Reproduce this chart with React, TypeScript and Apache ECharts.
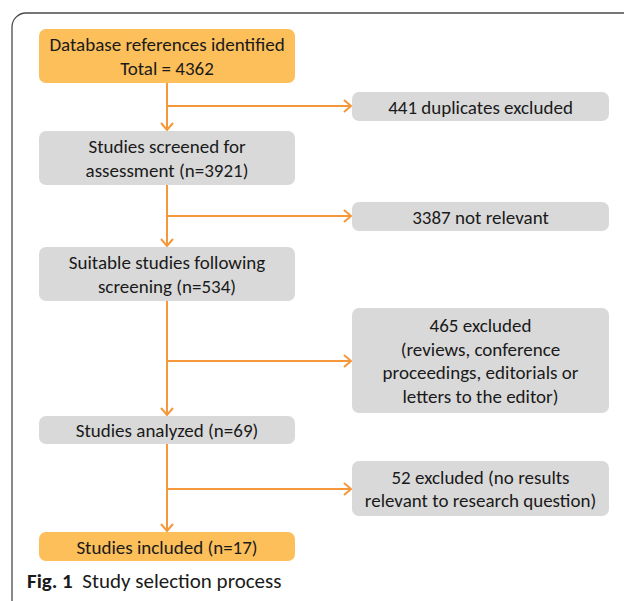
import React, { useEffect, useRef } from "react";
import * as echarts from "echarts";

// Flow steps (main column) and exclusions (right column)
const mainSteps = [
  "Database references identified\nTotal = 4362",
  "Studies screened for\nassessment (n=3921)",
  "Suitable studies following\nscreening (n=534)",
  "Studies analyzed (n=69)",
  "Studies included (n=17)",
];
const exclusions = [
  "441 duplicates excluded",
  "3387 not relevant",
  "465 excluded\n(reviews, conference\nproceedings, editorials or\nletters to the editor)",
  "52 excluded (no results\nrelevant to research question)",
];
const captionBold = "Fig. 1";
const captionText = "Study selection process";

// Layout (pixels)
const mainBoxes = [
  { y: 29, h: 54, orange: true },
  { y: 131, h: 54, orange: false },
  { y: 247, h: 54, orange: false },
  { y: 416, h: 28, orange: false },
  { y: 532, h: 29, orange: true },
];
const exBoxes = [
  { y: 92, h: 29, branchY: 106 },
  { y: 202, h: 29, branchY: 216 },
  { y: 308, h: 105, branchY: 361 },
  { y: 461, h: 55, branchY: 489 },
];

const ORANGE_FILL = "#FCBF5A";
const GREY_FILL = "#D9D9D9";
const LINE = "#F5973B";
const FONT = "Carlito, Lato, 'Open Sans', sans-serif";

export default function App() {
  const ref = useRef<HTMLDivElement>(null);
  useEffect(() => {
    document.body.style.margin = "0";
    if (!ref.current) return;
    const chart = echarts.init(ref.current, undefined, { renderer: "svg" });
    const mainX = 39, mainW = 256, exX = 352, exW = 257, lineX = 167;
    const els: any[] = [];

    // frame
    els.push({
      type: "rect",
      shape: { x: 12, y: 13, width: 700, height: 700, r: 14 },
      style: { fill: "none", stroke: "#4a4a4a", lineWidth: 1.3 },
    });

    const box = (x: number, y: number, w: number, h: number, fill: string, text: string) => {
      els.push({
        type: "rect",
        shape: { x, y, width: w, height: h, r: 7 },
        style: { fill },
      });
      els.push({
        type: "text",
        x: x + w / 2,
        y: y + h / 2 + 0.5,
        style: {
          text,
          fill: "#1a1a1a",
          font: `19px ${FONT}`,
          align: "center",
          verticalAlign: "middle",
          lineHeight: 23.5,
        },
      });
    };

    const arrowHead = (tx: number, ty: number, dir: "down" | "right") => {
      const s = 6;
      const pts =
        dir === "down"
          ? [[tx - s, ty - s - 1], [tx, ty], [tx + s, ty - s - 1]]
          : [[tx - s - 1, ty - s], [tx, ty], [tx - s - 1, ty + s]];
      els.push({
        type: "polyline",
        shape: { points: pts },
        style: { fill: "none", stroke: LINE, lineWidth: 2 },
      });
    };

    // vertical connectors
    for (let i = 0; i < mainBoxes.length - 1; i++) {
      const y1 = mainBoxes[i].y + mainBoxes[i].h;
      const y2 = mainBoxes[i + 1].y - 1;
      els.push({
        type: "line",
        shape: { x1: lineX, y1, x2: lineX, y2 },
        style: { stroke: LINE, lineWidth: 2 },
      });
      arrowHead(lineX, y2, "down");
    }
    // branches
    exBoxes.forEach((b) => {
      els.push({
        type: "line",
        shape: { x1: lineX, y1: b.branchY, x2: exX - 1, y2: b.branchY },
        style: { stroke: LINE, lineWidth: 2 },
      });
      arrowHead(exX - 1, b.branchY, "right");
    });

    mainBoxes.forEach((b, i) =>
      box(mainX, b.y, mainW, b.h, b.orange ? ORANGE_FILL : GREY_FILL, mainSteps[i])
    );
    exBoxes.forEach((b, i) => box(exX, b.y, exW, b.h, GREY_FILL, exclusions[i]));

    // caption
    els.push({
      type: "text",
      x: 27,
      y: 581,
      style: {
        text: `{b|${captionBold}}{n|  ${captionText}}`,
        verticalAlign: "middle",
        rich: {
          b: { font: `bold 21px ${FONT}`, fill: "#1a1a1a" },
          n: { font: `21px ${FONT}`, fill: "#1a1a1a" },
        },
      },
    });

    chart.setOption({ animation: false, graphic: { elements: els } });
    return () => chart.dispose();
  }, []);
  return <div ref={ref} style={{ width: 624, height: 601 }} />;
}
